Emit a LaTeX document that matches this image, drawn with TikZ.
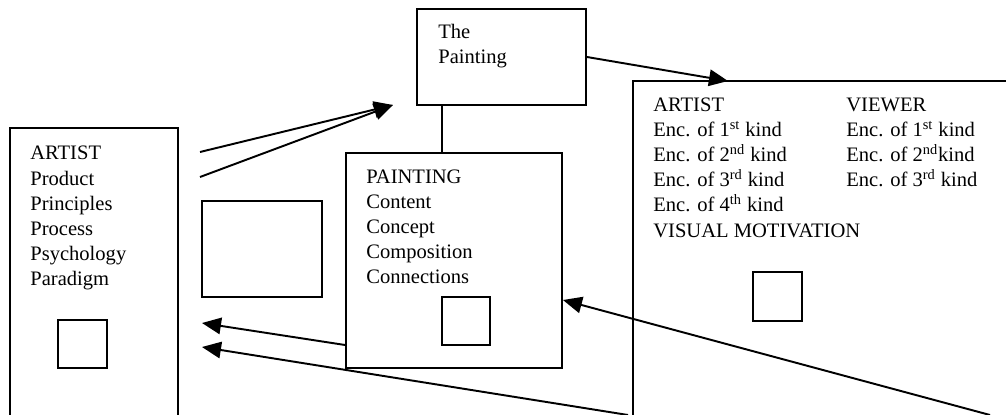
\documentclass[tikz,border=0pt]{standalone}
\usepackage{fontspec}
\setmainfont{Liberation Serif}
\usetikzlibrary{arrows.meta}
\tikzset{
  box/.style={draw, line width=1.1pt, inner sep=0pt},
  txt/.style={anchor=base west, inner sep=0pt, font=\fontsize{11.7}{14}\selectfont},
  link/.style={line width=1.1pt, -{Triangle[length=0.38cm,width=0.33cm]}}
}
\begin{document}
\begin{tikzpicture}[x=0.02cm, y=-0.02cm]
	\clip (0,0) rectangle (1006,415);
	% the boxes
	\node[box, minimum width=3.36cm, minimum height=6.04cm] (artist) at (94,279) {};
	\node[box, minimum width=0.98cm, minimum height=0.96cm] (artsq) at (82.5,344) {};
	\node[box, minimum width=2.4cm, minimum height=1.92cm] (empty) at (262,249) {};
	\node[box, minimum width=3.38cm, minimum height=1.92cm] (thepainting) at (501.5,57) {};
	\node[box, minimum width=4.32cm, minimum height=4.3cm] (painting) at (454,260.5) {};
	\node[box, minimum width=0.96cm, minimum height=0.96cm] (paintsq) at (466,321) {};
	\node[box, minimum width=7.94cm, minimum height=6.98cm] (enc) at (831.5,255.5) {};
	\node[box, minimum width=0.98cm, minimum height=0.98cm] (encsq) at (777.5,296.5) {};

	% texts, one line at a time
	\foreach \t [count=\i] in {ARTIST,Product,Principles,Process,Psychology,Paradigm}
		\node[txt] (art\i) at (30,135+25*\i) {\t};
	\foreach \t [count=\i] in {PAINTING,Content,Concept,Composition,Connections}
		\node[txt] (pnt\i) at (366,158+25*\i) {\t};
	\node[txt] (the1) at (438,39) {The};
	\node[txt] (the2) at (438,64) {Painting};
	\foreach \t [count=\i] in {ARTIST,Enc. of 1\textsuperscript{st} kind,Enc. of 2\textsuperscript{nd} kind,
		Enc. of 3\textsuperscript{rd} kind,Enc. of 4\textsuperscript{th} kind,VISUAL MOTIVATION}
		\node[txt] (encl\i) at (653,87+25*\i) {\t};
	\foreach \t [count=\i] in {VIEWER,Enc. of 1\textsuperscript{st} kind,Enc. of 2\textsuperscript{nd}kind,
		Enc. of 3\textsuperscript{rd} kind}
		\node[txt] (encr\i) at (846,87+25*\i) {\t};

	% loose ends of the connectors
	\coordinate (from1) at (200,152);
	\coordinate (from2) at (200,177);
	\coordinate (tip1) at (393,105);
	\coordinate (tip2) at (728,81);
	\coordinate (tip3) at (202,323);
	\coordinate (tip4) at (202,347);
	\coordinate (low1) at (628,415);
	\coordinate (low2) at (990,415);

	% connectors
	\draw[link] (from1) -- (tip1);
	\draw[link] (from2) -- (tip1);
	\draw[link] (thepainting.east) -- (tip2);
	\draw[line width=1.1pt] (thepainting.south -| 442,0) -- (painting.north -| 442,0);
	\draw[link] (painting.west |- 0,345) -- (tip3);
	\draw[link] (low1) -- (tip4);
	\draw[link] (low2) -- (painting.east |- 0,300);
\end{tikzpicture}
\end{document}
